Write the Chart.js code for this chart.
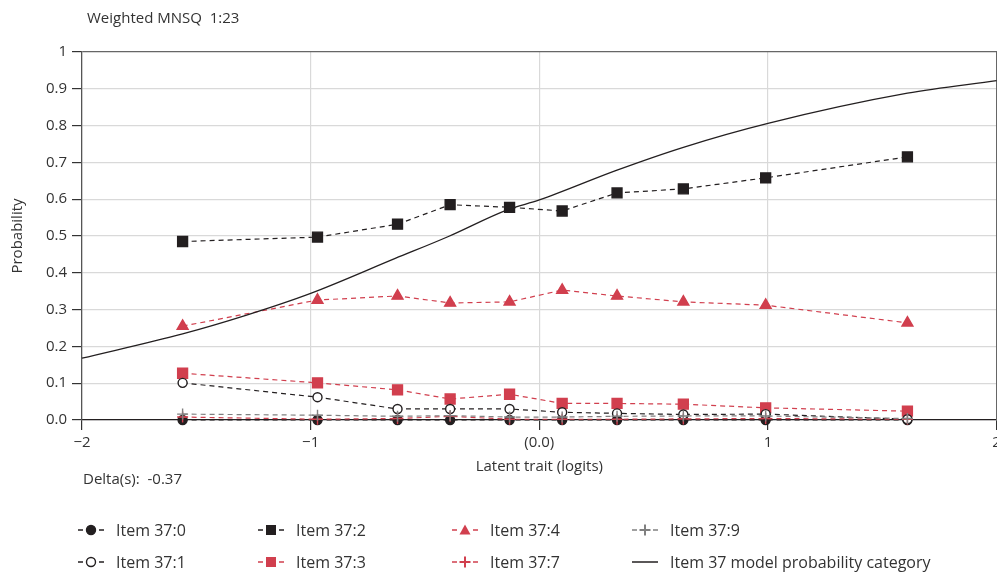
<!DOCTYPE html>
<html>
<head>
<meta charset="utf-8">
<script src="https://cdn.jsdelivr.net/npm/chart.js@4.4.1/dist/chart.umd.min.js"></script>
<style>
  body { margin: 0; background: #fff; font-family: "Open Sans", "Noto Sans", sans-serif; color: #333; overflow: hidden; }
  #wrap { position: relative; width: 997px; height: 576px; overflow: hidden; }
  #chart { position: absolute; left: 0; top: 0; }
  .txt { position: absolute; font-size: 15px; color: #333; white-space: nowrap; }
  .leg { position: absolute; font-size: 16px; color: #333; white-space: nowrap; display: flex; align-items: center; height: 20px; }
  .leg svg { margin-right: 12px; }
</style>
</head>
<body>
<div id="wrap">
  <canvas id="chart" width="1005" height="576"></canvas>
  <div class="txt" style="left:87px; top:7px;">Weighted MNSQ&nbsp;&nbsp;1:23</div>
  <div class="txt" style="left:83px; top:468px;">Delta(s):&nbsp;&nbsp;-0.37</div>
  <div id="legend"></div>
</div>
<script>
// x positions of observed points (logits)
const xPoints = [-1.56, -0.97, -0.62, -0.39, -0.13, 0.10, 0.34, 0.63, 0.99, 1.61];

const item0 = [0.000, 0.000, 0.000, 0.000, 0.000, 0.000, 0.000, 0.000, 0.000, 0.000];
const item1 = [0.101, 0.062, 0.030, 0.030, 0.030, 0.021, 0.018, 0.015, 0.016, 0.002];
const item2 = [0.485, 0.497, 0.532, 0.585, 0.578, 0.568, 0.617, 0.628, 0.658, 0.715];
const item3 = [0.127, 0.101, 0.082, 0.057, 0.070, 0.045, 0.045, 0.043, 0.033, 0.024];
const item4 = [0.255, 0.326, 0.337, 0.318, 0.321, 0.353, 0.337, 0.321, 0.312, 0.264];
const item7 = [0.008, 0.002, 0.004, 0.010, 0.002, 0.002, 0.002, 0.003, 0.004, 0.002];
const item9 = [0.016, 0.013, 0.010, 0.012, 0.008, 0.008, 0.010, 0.011, 0.011, 0.004];

// model curve
const modelX = [-2, -1.56, -1.28, -1.0, -0.63, -0.40, -0.14, 0.0, 0.34, 0.63, 1.0, 1.61, 2.0];
const modelY = [0.168, 0.234, 0.285, 0.344, 0.439, 0.498, 0.571, 0.598, 0.679, 0.741, 0.806, 0.888, 0.922];

const xTicks = [-2, -1, 0, 1, 2];
const xTickLabels = ['\u22122', '\u22121', '(0.0)', '1', '2'];

const BLACK = '#231f20';
const RED = '#d13f4e';
const GREY = '#808080';
const FONT = '"Open Sans", "Noto Sans", sans-serif';

const pts = arr => arr.map((v, i) => ({ x: xPoints[i], y: v }));

function dashed(label, data, color, style, radius, fill) {
    return {
        label: label,
        data: pts(data),
        borderColor: color,
        borderWidth: 1.2,
        borderDash: [5, 4],
        pointStyle: style,
        pointRadius: radius,
        pointBackgroundColor: fill ? color : '#fff',
        pointBorderColor: color,
        pointBorderWidth: 1.4,
        fill: false,
        tension: 0
    };
}

const datasets = [
    {
        label: 'Item 37 model probability category',
        data: modelX.map((x, i) => ({ x: x, y: modelY[i] })),
        borderColor: BLACK,
        borderWidth: 1.3,
        pointRadius: 0,
        cubicInterpolationMode: 'monotone',
        fill: false
    },
    dashed('Item 37:9', item9, GREY, 'cross', 5.5, true),
    dashed('Item 37:7', item7, RED, 'cross', 5.5, true),
    dashed('Item 37:1', item1, BLACK, 'circle', 4.5, false),
    dashed('Item 37:0', item0, BLACK, 'circle', 4.5, true),
    dashed('Item 37:3', item3, RED, 'rect', 7, true),
    dashed('Item 37:4', item4, RED, 'triangle', 6.3, true),
    dashed('Item 37:2', item2, BLACK, 'rect', 7, true)
];

new Chart(document.getElementById('chart'), {
    type: 'line',
    data: { datasets: datasets },
    options: {
        responsive: false,
        animation: false,
        clip: false,
        layout: { padding: { top: 52, right: 0, left: 0, bottom: 0 } },
        plugins: { legend: { display: false }, tooltip: { enabled: false } },
        scales: {
            x: {
                type: 'linear',
                min: -2,
                max: 2,
                afterFit: s => { s.height = 156; },
                afterBuildTicks: s => { s.ticks = xTicks.map(v => ({ value: v })); },
                ticks: {
                    autoSkip: false,
                    maxRotation: 0,
                    padding: 4,
                    color: '#333',
                    font: { family: FONT, size: 15 },
                    callback: (v) => xTickLabels[xTicks.indexOf(v)]
                },
                grid: {
                    color: ctx => (ctx.tick && (ctx.tick.value === -2) ? 'rgba(0,0,0,0)' : '#d9d9d9'),
                    tickColor: '#333',
                    tickLength: 10,
                    lineWidth: 1.2
                },
                border: { color: BLACK, width: 1.3 },
                title: {
                    display: true,
                    text: 'Latent trait (logits)',
                    color: '#333',
                    font: { family: FONT, size: 15 },
                    padding: { top: 0, bottom: 100 }
                }
            },
            y: {
                min: 0,
                max: 1,
                afterFit: s => { s.width = 82; },
                ticks: {
                    stepSize: 0.1,
                    padding: 5,
                    color: '#333',
                    font: { family: FONT, size: 15 },
                    callback: v => (Math.abs(v - 1) < 1e-9 ? '1' : v.toFixed(1))
                },
                grid: {
                    color: ctx => (ctx.tick && Math.abs(ctx.tick.value - 1) < 1e-9 ? '#666' : '#d9d9d9'),
                    tickColor: '#333',
                    tickLength: 10,
                    lineWidth: 1.2
                },
                border: { color: '#555', width: 1.3 },
                title: {
                    display: true,
                    text: 'Probability',
                    color: '#333',
                    font: { family: FONT, size: 15 },
                    padding: { top: 9, bottom: 0 }
                }
            },
            yRight: {
                position: 'right',
                min: 0,
                max: 1,
                afterFit: s => { s.width = 0; },
                ticks: { display: false },
                grid: { drawOnChartArea: false, drawTicks: false },
                border: { color: '#666', width: 1.2 }
            }
        }
    }
});

// legend, two rows of four columns as in the original
const legendRows = [
    ['Item 37:0', 'Item 37:2', 'Item 37:4', 'Item 37:9'],
    ['Item 37:1', 'Item 37:3', 'Item 37:7', 'Item 37 model probability category']
];
const colX = [78, 258, 452, 632];
const rowY = [520, 552];

function markerSvg(ds) {
    const c = ds.borderColor;
    let mark = '';
    if (ds.label.indexOf('model') >= 0) {
        return '<svg width="26" height="20"><line x1="0" y1="10" x2="26" y2="10" stroke="' + c + '" stroke-width="1.5"/></svg>';
    }
    if (ds.pointStyle === 'circle') {
        mark = '<circle cx="13" cy="10" r="4.5" fill="' + (ds.pointBackgroundColor) + '" stroke="' + c + '" stroke-width="1.4"/>';
    } else if (ds.pointStyle === 'rect') {
        mark = '<rect x="8" y="5" width="10" height="10" fill="' + c + '"/>';
    } else if (ds.pointStyle === 'triangle') {
        mark = '<polygon points="13,4.5 18.5,14.5 7.5,14.5" fill="' + c + '"/>';
    } else if (ds.pointStyle === 'cross') {
        mark = '<line x1="13" y1="4.5" x2="13" y2="15.5" stroke="' + c + '" stroke-width="2"/><line x1="7.5" y1="10" x2="18.5" y2="10" stroke="' + c + '" stroke-width="2"/>';
    }
    return '<svg width="26" height="20">' +
        '<line x1="0" y1="10" x2="5" y2="10" stroke="' + c + '" stroke-width="1.5"/>' +
        '<line x1="21" y1="10" x2="26" y2="10" stroke="' + c + '" stroke-width="1.5"/>' + mark + '</svg>';
}

const legendEl = document.getElementById('legend');
legendRows.forEach((row, r) => {
    row.forEach((label, c) => {
        const ds = datasets.find(d => d.label === label);
        const div = document.createElement('div');
        div.className = 'leg';
        div.style.left = colX[c] + 'px';
        div.style.top = rowY[r] + 'px';
        div.innerHTML = markerSvg(ds) + '<span>' + label + '</span>';
        legendEl.appendChild(div);
    });
});
</script>
</body>
</html>
